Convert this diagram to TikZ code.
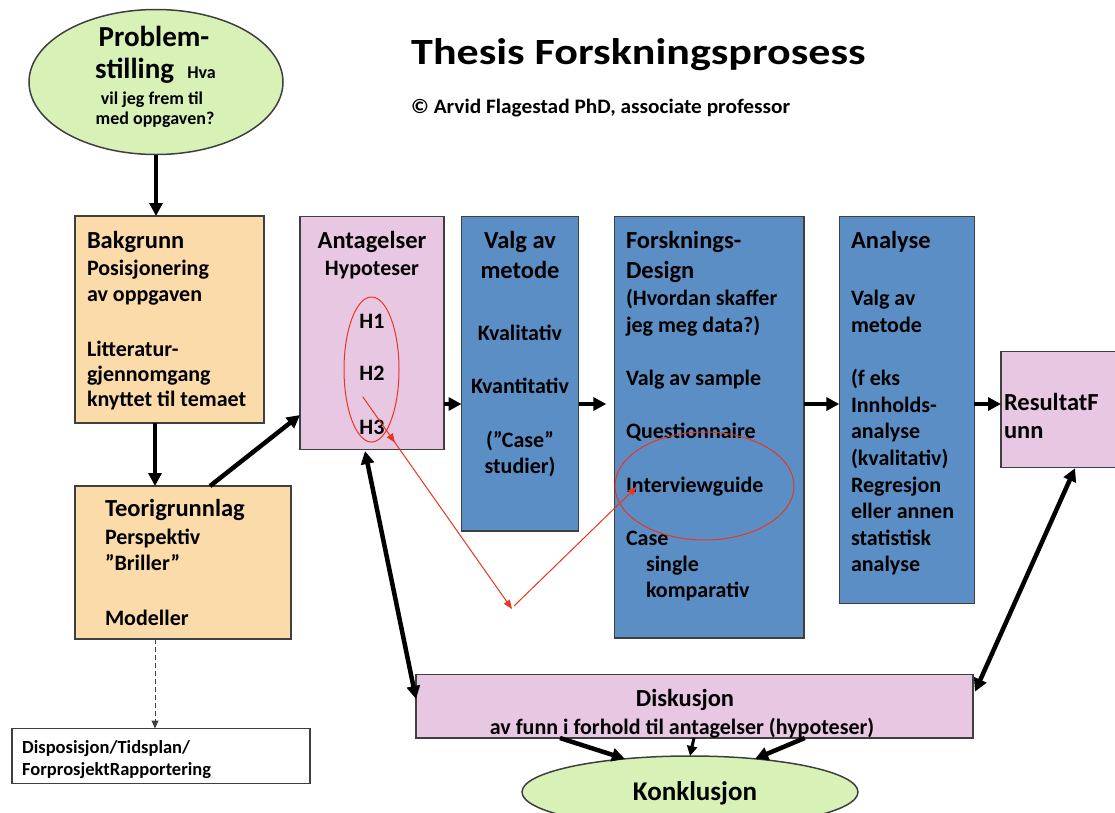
\documentclass[tikz,border=0pt]{standalone}
\usepackage{fontspec}
\setmainfont{Carlito}
\usetikzlibrary{arrows.meta,shapes.geometric,decorations.markings,calc}
\definecolor{pgreen}{HTML}{D8F1B7}
\definecolor{peach}{HTML}{FBDBA9}
\definecolor{pinkf}{HTML}{E8C7E2}
\definecolor{pblue}{HTML}{5C8EC6}
\definecolor{edge}{HTML}{3F3F3F}
\definecolor{redl}{HTML}{E8351F}
\tikzset{
  box/.style={draw=edge, line width=1.5pt, anchor=north west, inner sep=0pt, outer sep=0pt},
  oval/.style={ellipse, draw=edge, line width=1.5pt, fill=pgreen, inner sep=0pt, outer sep=0pt},
  redoval/.style={ellipse, draw=redl, line width=1pt, inner sep=0pt, outer sep=0pt},
  hd/.style={inner sep=0pt, outer sep=0pt, font=\fontsize{24.5}{29}\selectfont\bfseries},
  bd/.style={inner sep=0pt, outer sep=0pt, font=\fontsize{22}{26}\selectfont\bfseries},
  sm/.style={inner sep=0pt, outer sep=0pt, font=\fontsize{18}{21}\selectfont\bfseries},
  big/.style={line width=4.5pt, -{Triangle[length=13pt,width=13pt]}},
  mid/.style={line width=3pt, -{Triangle[length=10pt,width=10pt]}},
  bigboth/.style={line width=4.5pt, {Triangle[length=13pt,width=13pt]}-{Triangle[length=13pt,width=13pt]}},
  redarrow/.style={draw=redl, line width=1pt, -{Triangle[length=9pt,width=7pt]}},
  dasharrow/.style={draw=edge, line width=1pt, dash pattern=on 5pt off 3pt, -{Triangle[length=8pt,width=7pt]}},
}
\begin{document}
\begin{tikzpicture}[x=1pt,y=-1pt]
\useasboundingbox (0,0) rectangle (1115,812);
\clip (0,0) rectangle (1115,812);

% title
\node[anchor=base west, inner sep=0pt, xscale=1.19, font=\fontsize{37}{44}\selectfont\bfseries] (title) at (411,64) {Thesis Forskningsprosess};
\node[anchor=base west, inner sep=0pt, xscale=1.04, font=\fontsize{20.5}{24}\selectfont\bfseries] (sub) at (411,113) {© Arvid Flagestad PhD, associate professor};

% Problemstilling
\node[oval, minimum width=254pt, minimum height=145pt] (prob) at (156,82) {};
\node[anchor=base, inner sep=0pt, font=\fontsize{29}{32}\selectfont\bfseries] (p1) at (154,46.5) {Problem-};
\node[anchor=base, inner sep=0pt, font=\bfseries] (p2) at (155.5,78.3) {\fontsize{29}{32}\selectfont stilling\ \ \fontsize{18}{21}\selectfont Hva};
\node[sm, anchor=base] (p3) at (152,104.3) {vil jeg frem til};
\node[sm, anchor=base] (p4) at (155,124.8) {med oppgaven?};

% Bakgrunn
\node[box, fill=peach, minimum width=189pt, minimum height=207pt] (bak) at (75,216) {};
\node[hd, anchor=base west] (bakh) at (87,248.3) {Bakgrunn};
\foreach \y/\t [count=\i] in {275/Posisjonering, 301.7/av oppgaven, 356.5/Litteratur-, 381.7/gjennomgang, 406.7/knyttet til temaet}
  \node[bd, anchor=base west] (bak\i) at (87,\y) {\t};

% Teorigrunnlag
\node[box, fill=peach, minimum width=216pt, minimum height=153pt] (teo) at (75,486) {};
\node[hd, anchor=base west] (teoh) at (105,516.7) {Teorigrunnlag};
\foreach \y/\t [count=\i] in {544/Perspektiv, 570/”Briller”, 625/Modeller}
  \node[bd, anchor=base west] (teo\i) at (105,\y) {\t};

% Disposisjon
\node[box, fill=white, minimum width=298pt, minimum height=55pt] (disp) at (12,728.5) {};
\node[anchor=base west, inner sep=0pt, font=\fontsize{18.5}{22}\selectfont\bfseries] (disp1) at (22,753) {Disposisjon/Tidsplan/};
\node[anchor=base west, inner sep=0pt, font=\fontsize{18.5}{22}\selectfont\bfseries] (disp2) at (22,775) {ForprosjektRapportering};

% Antagelser
\node[box, fill=pinkf, minimum width=144pt, minimum height=233pt] (ant) at (300,216.5) {};
\node[hd, anchor=base] (anth) at (372,248) {Antagelser};
\foreach \y/\t [count=\i] in {275/Hypoteser, 328/H1, 380/H2, 434/H3}
  \node[bd, anchor=base] (ant\i) at (372,\y) {\t};
\node[redoval, minimum width=55pt, minimum height=145pt] (hyp) at (371.5,369.5) {};

% Valg av metode
\node[box, fill=pblue, minimum width=117pt, minimum height=314.5pt] (valg) at (461.5,216.5) {};
\node[hd, anchor=base] (valgh1) at (520,248) {Valg av};
\node[hd, anchor=base] (valgh2) at (520,278) {metode};
\foreach \y/\t [count=\i] in {340/Kvalitativ, 393/Kvantitativ, 447/(”Case”, 473/studier)}
  \node[bd, anchor=base] (valg\i) at (520,\y) {\t};

% Forsknings-Design
\node[box, fill=pblue, minimum width=189.5pt, minimum height=421.5pt] (fd) at (614.3,216.7) {};
\node[hd, anchor=base west] (fdh1) at (626,248) {Forsknings-};
\node[hd, anchor=base west] (fdh2) at (626,278) {Design};
\foreach \y/\t [count=\i] in {305/(Hvordan skaffer, 332/jeg meg data?), 385/Valg av sample, 438/Questionnaire, 492/Interviewguide, 545/Case}
  \node[bd, anchor=base west] (fd\i) at (626,\y) {\t};
\node[bd, anchor=base west] (fd7) at (646,571) {single};
\node[bd, anchor=base west] (fd8) at (646,597) {komparativ};
\node[redoval, minimum width=179pt, minimum height=108pt] (ig) at (704.5,486) {};

% Analyse
\node[box, fill=pblue, minimum width=135pt, minimum height=386.6pt] (an) at (839.3,216.7) {};
\node[hd, anchor=base west] (anh) at (851,248) {Analyse};
\foreach \y/\t [count=\i] in {305/Valg av, 332/metode, 385/(f eks, 412/Innholds-, 438/analyse, 465/(kvalitativ), 492/Regresjon, 518/eller annen, 545/statistisk, 571/analyse}
  \node[bd, anchor=base west] (an\i) at (851,\y) {\t};

% ResultatFunn
\node[box, fill=pinkf, minimum width=130pt, minimum height=116pt] (res) at (1001,351.7) {};
\node[hd, anchor=base west] (res1) at (1004,410) {ResultatF};
\node[hd, anchor=base west] (res2) at (1004,438.5) {unn};

% Diskusjon
\node[box, fill=pinkf, minimum width=557pt, minimum height=63.5pt] (disk) at (416,674.5) {};
\node[hd, anchor=base] (disk1) at (685,706.5) {Diskusjon};
\node[bd, anchor=base] (disk2) at (682,734) {av funn i forhold til antagelser (hypoteser)};

% Konklusjon
\node[oval, minimum width=336pt, minimum height=72pt] (konk) at (690,792) {};
\node[anchor=base, inner sep=0pt, font=\fontsize{27}{32}\selectfont\bfseries] (konkt) at (695,800) {Konklusjon};

% connectors
\draw[big] (prob.south) -- (prob.south |- bak.north);
\coordinate (colx) at (155,0);
\draw[big] (bak.south -| colx) -- (teo.north -| colx);
\draw[big] ($(teo.north west)!0.625!(teo.north east)$) -- ($(ant.north west)!0.852!(ant.south west)$);
\draw[dasharrow] (teo.south -| colx) -- (disp.north -| colx);

\coordinate (rowy) at (0,404);
\draw[big] (rowy -| ant.east) -- (rowy -| valg.west);
\draw[big, shorten >=8pt] (rowy -| valg.east) -- (rowy -| fd.west);
\draw[big] (rowy -| fd.east) -- (rowy -| an.west);
\draw[big] (rowy -| an.east) -- (rowy -| res.west);

\draw[bigboth] ($(ant.south west)+(65,1.5)$) -- ($(disk.north west)!0.385!(disk.south west)$);
\draw[bigboth] ($(res.south west)+(74,0.5)$) -- ($(disk.north east)!0.27!(disk.south east)+(2,0)$);

\draw[big] ($(disk.south west)!0.2585!(disk.south east)$) -- (konk.153);
\draw[mid] ($(disk.south west)!0.499!(disk.south east)$) -- (konk.90);
\draw[big] ($(disk.south west)!0.698!(disk.south east)$) -- (konk.27);

% red annotation
\coordinate (rA) at (362.7,396.7);
\coordinate (rB) at (512,609);
\coordinate (rC) at (636.7,486.7);
\draw[redarrow, postaction={decorate}, decoration={markings, mark=at position 0.216 with {\arrow{Triangle[length=9pt,width=7pt]}}}] (rA) -- (rB);
\draw[redarrow] ($(rB)+(2,-3)$) -- (rC);
\end{tikzpicture}
\end{document}
